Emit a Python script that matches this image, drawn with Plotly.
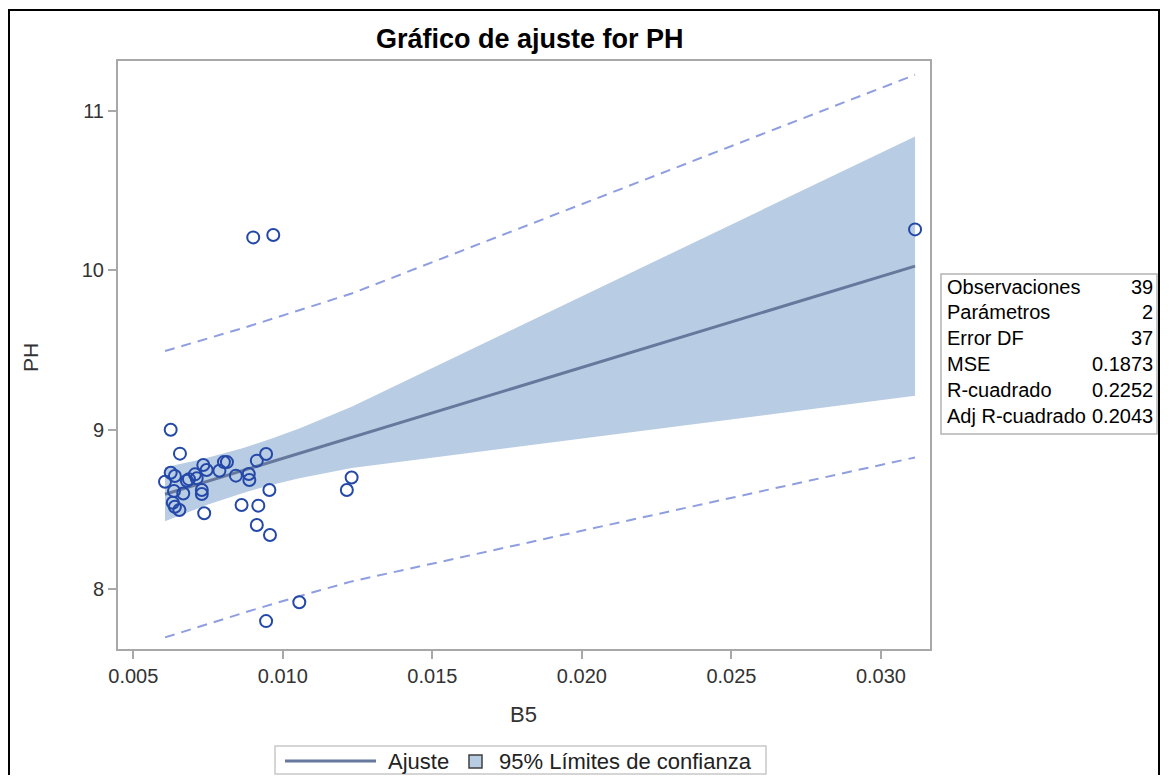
import numpy as np
import plotly.graph_objects as go

# ---------------- data ----------------
b5 = [0.00625, 0.00656, 0.00625, 0.00639, 0.00606, 0.00734, 0.00745, 0.00803,
      0.00813, 0.00788, 0.00706, 0.00712, 0.00679, 0.00686, 0.00667, 0.00636,
      0.00729, 0.00729, 0.00632, 0.00639, 0.00654, 0.00737, 0.00843, 0.00886,
      0.00888, 0.00913, 0.00944, 0.00955, 0.00862, 0.00918, 0.00913, 0.00957,
      0.01230, 0.01214, 0.01055, 0.00944, 0.00901, 0.00968, 0.03114]
ph = [9.000, 8.850, 8.730, 8.710, 8.674, 8.779, 8.747, 8.797,
      8.797, 8.743, 8.720, 8.695, 8.680, 8.690, 8.600, 8.616,
      8.622, 8.597, 8.542, 8.517, 8.497, 8.476, 8.712, 8.722,
      8.685, 8.806, 8.848, 8.622, 8.528, 8.524, 8.403, 8.340,
      8.700, 8.622, 7.918, 7.800, 10.206, 10.221, 10.256]

stat_labels = ["Observaciones", "Parámetros", "Error DF", "MSE", "R-cuadrado", "Adj R-cuadrado"]
stat_values = ["39", "2", "37", "0.1873", "0.2252", "0.2043"]

x_ticks = [0.005, 0.010, 0.015, 0.020, 0.025, 0.030]
y_ticks = [8, 9, 10, 11]

title_text = "Gráfico de ajuste for PH"
x_title = "B5"
y_title = "PH"
legend_fit = "Ajuste"
legend_band = "95% Límites de confianza"

T_CRIT = 2.0262  # Student t quantile, 0.975, 37 df

# ---------------- regression fit ----------------
x = np.array(b5)
y = np.array(ph)
n = len(x)
xm = x.mean()
sxx = ((x - xm) ** 2).sum()
slope = ((x - xm) * (y - y.mean())).sum() / sxx
icpt = y.mean() - slope * xm
mse = ((y - (icpt + slope * x)) ** 2).sum() / (n - 2)
xs = np.unique(x)
fit = icpt + slope * xs
se_mean = np.sqrt(mse * (1.0 / n + (xs - xm) ** 2 / sxx))
se_pred = np.sqrt(mse * (1.0 + 1.0 / n + (xs - xm) ** 2 / sxx))
cl_lo, cl_hi = fit - T_CRIT * se_mean, fit + T_CRIT * se_mean
pl_lo, pl_hi = fit - T_CRIT * se_pred, fit + T_CRIT * se_pred

# ---------------- styling ----------------
FONT = "Liberation Sans, Arial, sans-serif"
BAND = "#b8cce4"
FITC = "#66789c"
DASHC = "#8e9ee0"
MARK = "#2448a8"
FRAME = "#a8a8a8"

OFF = 8  # page body margin: figure origin sits at (8, 8) on the page
W, H = 1169 - 2 * OFF, 783 - 2 * OFF
# plot area in page pixels (reference)
L_P, R_P, T_P, B_P = 118, 930, 61, 649
L, R, T, B = L_P - OFF, R_P - OFF, T_P - OFF, B_P - OFF


def px(v):  # page x pixel -> paper
    return (v - L_P) / (R_P - L_P)


def py(v):  # page y pixel -> paper
    return (B_P - v) / (B_P - T_P)


fig = go.Figure()
fig.add_trace(go.Scatter(x=xs, y=cl_hi, mode="lines", line=dict(width=0, color=BAND),
                         showlegend=False, hoverinfo="skip"))
fig.add_trace(go.Scatter(x=xs, y=cl_lo, mode="lines", line=dict(width=0, color=BAND),
                         fill="tonexty", fillcolor=BAND, showlegend=False, hoverinfo="skip"))
for arr in (pl_hi, pl_lo):
    fig.add_trace(go.Scatter(x=xs, y=arr, mode="lines",
                             line=dict(color=DASHC, width=2, dash="10px,7px"),
                             showlegend=False, hoverinfo="skip"))
fig.add_trace(go.Scatter(x=xs, y=fit, mode="lines", line=dict(color=FITC, width=3),
                         showlegend=False))
fig.add_trace(go.Scatter(x=b5, y=ph, mode="markers",
                         marker=dict(symbol="circle-open", size=12, color=MARK,
                                     line=dict(width=2, color=MARK)),
                         showlegend=False))

axis_common = dict(showgrid=False, zeroline=False, showline=True, mirror=True,
                   linecolor=FRAME, linewidth=2, ticks="outside", ticklen=8,
                   tickcolor=FRAME, tickwidth=1.5,
                   tickfont=dict(family=FONT, size=20, color="#333333"))

fig.update_xaxes(range=[0.004488, 0.03164], tickvals=x_ticks,
                 ticktext=[f"{v:.3f}" for v in x_ticks], **axis_common)
fig.update_yaxes(range=[7.625, 11.312], tickvals=y_ticks,
                 ticktext=[str(v) for v in y_ticks], **axis_common)

shapes = []
annotations = []

# outer border
shapes.append(dict(type="rect", xref="paper", yref="paper",
                   x0=px(9), x1=px(1159), y0=py(800), y1=py(10),
                   line=dict(color="black", width=2), fillcolor="rgba(0,0,0,0)"))

# title and axis titles
annotations.append(dict(text="<b>" + title_text + "</b>", x=px(530), y=py(39),
                        xref="paper", yref="paper", showarrow=False,
                        xanchor="center", yanchor="middle",
                        font=dict(family=FONT, size=27, color="black")))
annotations.append(dict(text=x_title, x=px(523), y=py(714), xref="paper", yref="paper",
                        showarrow=False, xanchor="center", yanchor="middle",
                        font=dict(family=FONT, size=22, color="#333333")))
annotations.append(dict(text=y_title, x=px(31), y=py(358), xref="paper", yref="paper",
                        showarrow=False, xanchor="center", yanchor="middle", textangle=-90,
                        font=dict(family=FONT, size=21, color="#333333")))

# statistics table
shapes.append(dict(type="rect", xref="paper", yref="paper",
                   x0=px(941), x1=px(1157), y0=py(434), y1=py(274),
                   line=dict(color="#b4b4b4", width=1.5), fillcolor="white"))
row_y0, row_dy = 286.5, 25.9
for i, (lab, val) in enumerate(zip(stat_labels, stat_values)):
    yy = py(row_y0 + i * row_dy)
    annotations.append(dict(text=lab, x=px(945), y=yy, xref="paper", yref="paper",
                            showarrow=False, xanchor="left", yanchor="middle",
                            font=dict(family=FONT, size=20, color="black")))
    annotations.append(dict(text=val, x=px(1155), y=yy, xref="paper", yref="paper",
                            showarrow=False, xanchor="right", yanchor="middle",
                            font=dict(family=FONT, size=20, color="black")))

# legend
shapes.append(dict(type="rect", xref="paper", yref="paper",
                   x0=px(275), x1=px(766), y0=py(774), y1=py(746),
                   line=dict(color="#c8c8c8", width=1.5), fillcolor="white"))
shapes.append(dict(type="line", xref="paper", yref="paper",
                   x0=px(285), x1=px(376), y0=py(761), y1=py(761),
                   line=dict(color=FITC, width=3)))
shapes.append(dict(type="rect", xref="paper", yref="paper",
                   x0=px(469), x1=px(482), y0=py(768), y1=py(755),
                   line=dict(color="#404040", width=1.5), fillcolor=BAND))
annotations.append(dict(text=legend_fit, x=px(386), y=py(761), xref="paper", yref="paper",
                        showarrow=False, xanchor="left", yanchor="middle",
                        font=dict(family=FONT, size=22, color="#222222")))
annotations.append(dict(text=legend_band, x=px(497), y=py(761), xref="paper", yref="paper",
                        showarrow=False, xanchor="left", yanchor="middle",
                        font=dict(family=FONT, size=22, color="#222222")))

fig.update_layout(width=W, height=H, autosize=False,
                  margin=dict(l=L, r=W - R, t=T, b=H - B, pad=0),
                  paper_bgcolor="white", plot_bgcolor="white",
                  shapes=shapes, annotations=annotations, showlegend=False,
                  font=dict(family=FONT))

fig.write_html("out.html")
